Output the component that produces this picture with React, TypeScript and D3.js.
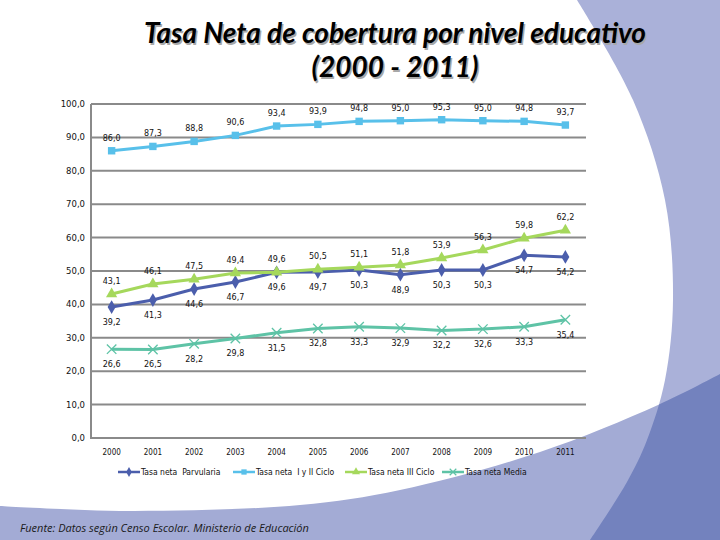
import { useRef, useEffect } from 'react';
import * as d3 from 'd3';

const years = ['2000', '2001', '2002', '2003', '2004', '2005', '2006', '2007', '2008', '2009', '2010', '2011'];
const parvularia = [39.2, 41.3, 44.6, 46.7, 49.6, 49.7, 50.3, 48.9, 50.3, 50.3, 54.7, 54.2];
const cicloIyII = [86.0, 87.3, 88.8, 90.6, 93.4, 93.9, 94.8, 95.0, 95.3, 95.0, 94.8, 93.7];
const cicloIII = [43.1, 46.1, 47.5, 49.4, 49.6, 50.5, 51.1, 51.8, 53.9, 56.3, 59.8, 62.2];
const media = [26.6, 26.5, 28.2, 29.8, 31.5, 32.8, 33.3, 32.9, 32.2, 32.6, 33.3, 35.4];
const yTickValues = [0, 10, 20, 30, 40, 50, 60, 70, 80, 90, 100];
const seriesNames = ['Tasa neta  Parvularia', 'Tasa neta  I y II Ciclo', 'Tasa neta III Ciclo', 'Tasa neta Media'];

type Series = {
    name: string;
    values: number[];
    color: string;
    symbol: d3.SymbolType;
    stroke: boolean;
    below: boolean;
};

const series: Series[] = [
    { name: seriesNames[0], values: parvularia, color: '#4B5EAC', symbol: d3.symbolDiamond, stroke: false, below: true },
    { name: seriesNames[1], values: cicloIyII, color: '#58C0EA', symbol: d3.symbolSquare, stroke: false, below: false },
    { name: seriesNames[2], values: cicloIII, color: '#A5D85C', symbol: d3.symbolTriangle, stroke: false, below: false },
    { name: seriesNames[3], values: media, color: '#5EC3A6', symbol: d3.symbolTimes, stroke: true, below: true },
];

const fmt = (v: number) => v.toFixed(1).replace('.', ',');

const App = () => {
    const svgRef = useRef<SVGSVGElement | null>(null);

    useEffect(() => {
        const svgEl = svgRef.current;
        if (!svgEl) return;
        const width = 720;
        const height = 540;
        const svg = d3.select(svgEl);
        svg.selectAll('*').remove();

        // background decoration
        const curveLine = d3.line().curve(d3.curveCatmullRom);
        const bandEdge: [number, number][] = [[577, 0], [633, 100], [665, 200], [673, 300], [665, 380], [647, 440], [627, 482], [590, 540]];
        const swoopEdge: [number, number][] = [[0, 506], [130, 511], [300, 505], [400, 490], [540, 452], [658, 405], [720, 374]];
        const bandPath = curveLine(bandEdge) + `L${width},${height}L${width},0Z`;
        const swoopPath = curveLine(swoopEdge) + `L${width},${height}L0,${height}Z`;

        const defs = svg.append('defs');
        defs.append('clipPath').attr('id', 'bandClip').append('path').attr('d', bandPath);

        svg.append('rect').attr('width', width).attr('height', height).attr('fill', '#fff');
        svg.append('path').attr('d', bandPath).attr('fill', '#AAB1D9');
        svg.append('path').attr('d', swoopPath).attr('fill', '#A3ABD5');
        svg.append('path').attr('d', swoopPath).attr('fill', '#7382BE').attr('clip-path', 'url(#bandClip)');

        // title
        const titleLines = ['Tasa Neta de cobertura por nivel educativo', '(2000 - 2011)'];
        titleLines.forEach((t, i) => {
            [['#a8a8a8', 1.5], ['#000', 0]].forEach(([fill, off]) => {
                svg.append('text')
                    .attr('x', 395 + (off as number))
                    .attr('y', 43 + i * 34 + (off as number))
                    .attr('text-anchor', 'middle')
                    .style('font-family', 'Lato, "Open Sans", sans-serif')
                    .style('font-weight', 'bold')
                    .style('font-style', 'italic')
                    .style('font-size', '28px')
                    .style('fill', fill as string)
                    .text(t);
            });
        });

        const margin = { left: 91, right: 134, top: 104, bottom: 102 };

        const x = d3.scaleBand()
            .domain(years)
            .range([margin.left, width - margin.right]);

        const y = d3.scaleLinear()
            .domain([0, 100])
            .range([height - margin.bottom, margin.top]);

        const cx = (yr: string) => (x(yr) as number) + x.bandwidth() / 2;

        // grid
        svg.append('g')
            .selectAll('line')
            .data(yTickValues)
            .join('line')
            .attr('x1', margin.left)
            .attr('x2', width - margin.right)
            .attr('y1', d => y(d))
            .attr('y2', d => y(d))
            .attr('stroke', '#8A8A8A')
            .attr('stroke-width', 2);

        svg.append('line')
            .attr('x1', margin.left)
            .attr('x2', margin.left)
            .attr('y1', y(100))
            .attr('y2', y(0) + 1)
            .attr('stroke', '#8A8A8A')
            .attr('stroke-width', 2);

        svg.append('g')
            .selectAll('text')
            .data(yTickValues)
            .join('text')
            .attr('x', margin.left - 6)
            .attr('y', d => y(d) + 3)
            .attr('text-anchor', 'end')
            .style('font-family', '"DejaVu Sans", sans-serif')
            .style('font-size', '8.5px')
            .style('fill', '#111')
            .text(d => fmt(d));

        svg.append('g')
            .selectAll('text')
            .data(years)
            .join('text')
            .attr('x', d => cx(d))
            .attr('y', y(0) + 17)
            .attr('text-anchor', 'middle')
            .style('font-family', '"DejaVu Sans Condensed", "DejaVu Sans", sans-serif')
            .style('font-size', '8px')
            .style('fill', '#111')
            .text(d => d);

        // lines
        series.forEach(s => {
            const line = d3.line<number>()
                .x((_, i) => cx(years[i]))
                .y(d => y(d));

            svg.append('path')
                .datum(s.values)
                .attr('fill', 'none')
                .attr('stroke', s.color)
                .attr('stroke-width', 3)
                .attr('d', line);

            const sym = d3.symbol().type(s.symbol).size(s.stroke ? 60 : 55);
            svg.append('g')
                .selectAll('path')
                .data(s.values)
                .join('path')
                .attr('transform', (d, i) => `translate(${cx(years[i])},${y(d)})`)
                .attr('d', sym as unknown as string)
                .attr('fill', s.stroke ? 'none' : s.color)
                .attr('stroke', s.stroke ? s.color : 'none')
                .attr('stroke-width', 1.3);
        });

        // data labels
        series.forEach(s => {
            svg.append('g')
                .selectAll('text')
                .data(s.values)
                .join('text')
                .attr('x', (_, i) => cx(years[i]))
                .attr('y', d => y(d) + (s.below ? 18 : -10))
                .attr('text-anchor', 'middle')
                .style('font-family', '"DejaVu Sans", sans-serif')
                .style('font-size', '8px')
                .style('fill', '#111')
                .text(d => fmt(d));
        });

        // legend
        const legendX = [118, 233, 345, 442];
        const legendY = 472;
        series.forEach((s, i) => {
            const g = svg.append('g').attr('transform', `translate(${legendX[i]},${legendY})`);
            g.append('line')
                .attr('x1', 0).attr('x2', 22)
                .attr('stroke', s.color)
                .attr('stroke-width', 2.5);
            g.append('path')
                .attr('transform', 'translate(11,0)')
                .attr('d', d3.symbol().type(s.symbol).size(s.stroke ? 30 : 28)() as string)
                .attr('fill', s.stroke ? 'none' : s.color)
                .attr('stroke', s.stroke ? s.color : 'none')
                .attr('stroke-width', 1.2);
            g.append('text')
                .attr('x', 23)
                .attr('y', 3)
                .style('font-family', '"DejaVu Sans Condensed", "DejaVu Sans", sans-serif')
                .style('font-size', '8.5px')
                .style('fill', '#111')
                .style('white-space', 'pre')
                .text(s.name);
        });

        // source
        svg.append('text')
            .attr('x', 20)
            .attr('y', 532)
            .style('font-family', '"Open Sans", sans-serif')
            .style('font-style', 'italic')
            .style('font-size', '11px')
            .style('fill', '#1a1a1a')
            .text('Fuente: Datos según Censo Escolar. Ministerio de Educación');
    }, []);

    return (
        <div style={{ position: 'absolute', left: 0, top: 0 }}>
            <svg ref={svgRef} width={720} height={540} style={{ display: 'block' }}></svg>
        </div>
    );
};

export default App;
